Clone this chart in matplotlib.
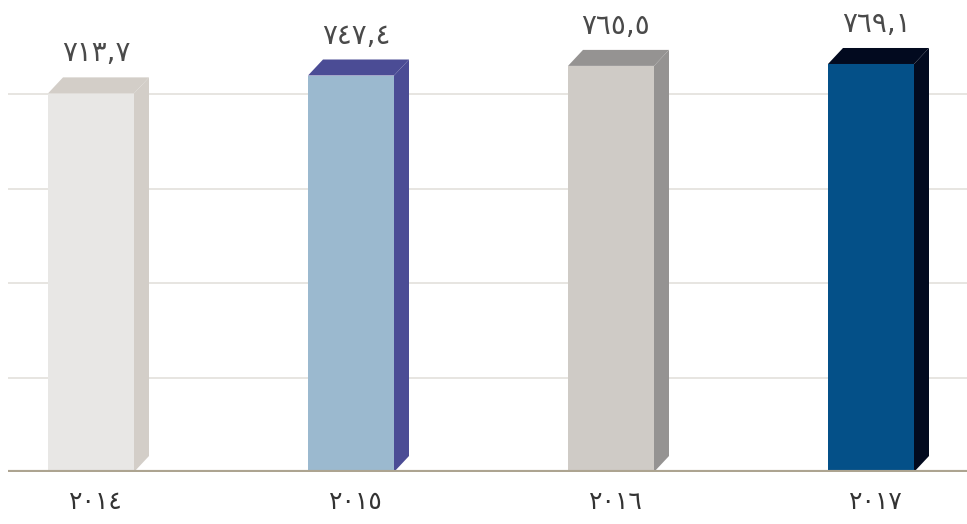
import matplotlib
matplotlib.use('Agg')
import matplotlib.pyplot as plt
from matplotlib.patches import Polygon, Rectangle

plt.rcParams['font.family'] = ['DejaVu Sans']

years = ['٢٠١٤', '٢٠١٥', '٢٠١٦', '٢٠١٧']
values = [713.7, 747.4, 765.5, 769.1]
value_labels = ['٧١٣,٧', '٧٤٧,٤', '٧٦٥,٥', '٧٦٩,١']

front_colors = ['#e8e7e5', '#9bb9cf', '#cfcbc6', '#045088']
side_colors = ['#d3cec8', '#4b4c95', '#959392', '#020a1f']

W, H = 967, 524
fig = plt.figure(figsize=(W / 100, H / 100), dpi=100)
ax = fig.add_axes([8 / W, 52 / H, 1 - 8 / W, 1 - 52 / H])

# axis scale: 260 px per category, ~1.885 units per px
px_per_cat = 260
units_per_px = 1.885
x0 = -(91 - 8) / px_per_cat
ax.set_xlim(x0, x0 + (W - 8) / px_per_cat)
ax.set_ylim(0, (H - 52) * units_per_px)

bar_w = 86 / px_per_cat
dx = 15 / px_per_cat
dy = 16 * units_per_px

grid_step = 178
for g in range(1, 5):
    ax.axhline(g * grid_step, color='#e3e0dc', lw=1.2, zorder=0)
ax.axhline(0, color='#ada491', lw=3, zorder=5)

for i, v in enumerate(values):
    x1 = i - bar_w / 2
    x2 = i + bar_w / 2
    ax.add_patch(Rectangle((x1, 0), bar_w, v, facecolor=front_colors[i],
                           edgecolor='none', zorder=3))
    ax.add_patch(Polygon([(x1, v), (x2, v), (x2 + dx, v + dy), (x1 + dx, v + dy)],
                         closed=True, facecolor=side_colors[i], edgecolor='none', zorder=3))
    ax.add_patch(Polygon([(x2, 0), (x2, v), (x2 + dx, v + dy), (x2 + dx, dy)],
                         closed=True, facecolor=side_colors[i], edgecolor='none', zorder=3))
    ax.text(i + dx / 3, v + dy + 10 * units_per_px, value_labels[i],
            ha='center', va='bottom', fontsize=20, color='#4a4a4a')
    ax.text(i + dx / 3, -30 * units_per_px, years[i], ha='center',
            va='center', fontsize=18, color='#333333', clip_on=False)

ax.axis('off')
fig.savefig('out.png', dpi=100)
